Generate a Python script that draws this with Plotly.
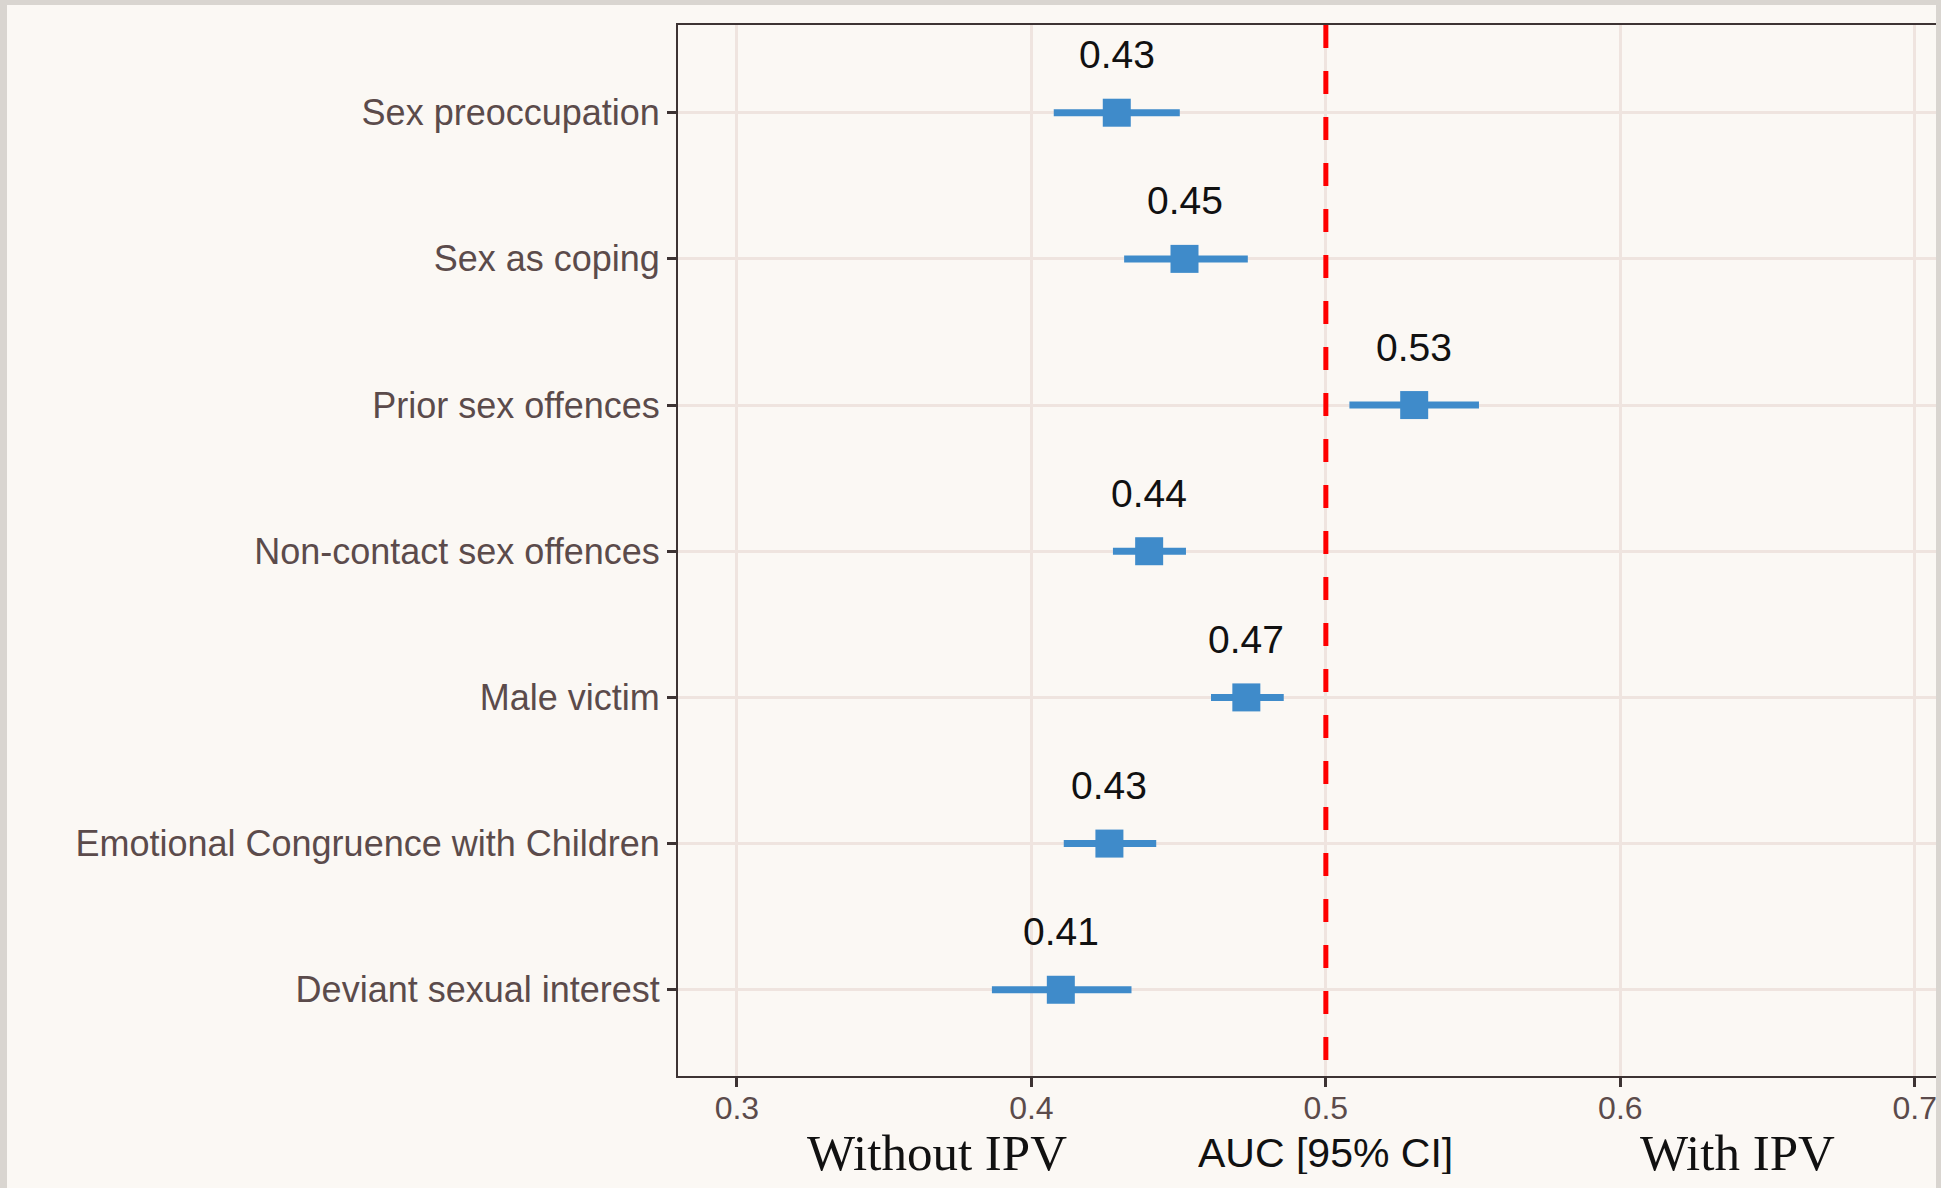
import plotly.graph_objects as go

# ---- data ----
categories = ["Deviant sexual interest", "Emotional Congruence with Children", "Male victim",
              "Non-contact sex offences", "Prior sex offences", "Sex as coping", "Sex preoccupation"]
auc = [0.410, 0.4265, 0.473, 0.440, 0.530, 0.452, 0.429]
ci_low = [0.3866, 0.411, 0.461, 0.4277, 0.508, 0.4315, 0.4076]
ci_high = [0.434, 0.4424, 0.4857, 0.4525, 0.552, 0.4735, 0.4504]
auc_labels = ["0.41", "0.43", "0.47", "0.44", "0.53", "0.45", "0.43"]
x_ticks = [0.3, 0.4, 0.5, 0.6, 0.7]
x_tick_labels = ["0.3", "0.4", "0.5", "0.6", "0.7"]
reference_auc = 0.5

ypos = list(range(1, len(categories) + 1))

BG = "#fbf8f4"
FRAME = "#d9d5d0"
GRID = "#efe4df"
AXIS = "#3d3333"
TICKTXT = "#5b4b4b"
BLUE = "#3f8bca"

fig = go.Figure()

fig.add_trace(go.Scatter(
    x=auc, y=ypos, mode="markers",
    marker=dict(symbol="square", size=28, color=BLUE, line=dict(width=0)),
    error_x=dict(type="data", symmetric=False,
                 array=[h - a for h, a in zip(ci_high, auc)],
                 arrayminus=[a - l for a, l in zip(auc, ci_low)],
                 thickness=7, width=0, color=BLUE),
    showlegend=False, hoverinfo="skip"))

for x, y, t in zip(auc, ypos, auc_labels):
    fig.add_annotation(x=x, y=y, text=t, showarrow=False, yshift=58, xanchor="center",
                       font=dict(family="Liberation Sans, Arial", size=39, color="#111111"))

# reference line
fig.add_shape(type="line", xref="x", yref="paper", x0=reference_auc, x1=reference_auc,
              y0=1, y1=0, line=dict(color="#ff0000", width=5, dash="23px,23px"), layer="above")

# axis title-like annotations
fig.add_annotation(xref="x", yref="paper", x=reference_auc, y=-0.073, text="AUC [95% CI]",
                   showarrow=False, yanchor="middle", xanchor="center", height=42,
                   font=dict(family="Liberation Sans, Arial", size=41, color="#111111"))
fig.add_annotation(xref="paper", yref="paper", x=0.206, y=-0.073, text="Without IPV",
                   showarrow=False, yanchor="middle", xanchor="center", height=42,
                   font=dict(family="Liberation Serif, Times New Roman", size=51, color="#111111"))
fig.add_annotation(xref="paper", yref="paper", x=0.842, y=-0.073, text="With IPV",
                   showarrow=False, yanchor="middle", xanchor="center", height=42,
                   font=dict(family="Liberation Serif, Times New Roman", size=51, color="#111111"))

# frame strips (left, top, right)
W, H = 1941, 1188
L, R, T, B = 678, 5, 25, 112
pw, ph = W - L - R, H - T - B
def px_x(p):
    return (p - L) / pw
def px_y(p):
    return (H - B - p) / ph
for x0, x1, y0, y1 in [(0, 7, 0, H), (0, W, 0, 5), (W - 5, W, 0, H)]:
    fig.add_shape(type="rect", xref="paper", yref="paper",
                  x0=px_x(x0), x1=px_x(x1), y0=px_y(y1), y1=px_y(y0),
                  fillcolor=FRAME, line=dict(width=0), layer="above")

fig.update_xaxes(range=[0.28, 0.7072], tickvals=x_ticks, ticktext=x_tick_labels,
                 showgrid=True, gridcolor=GRID, gridwidth=3, zeroline=False,
                 showline=True, linecolor=AXIS, linewidth=2, mirror=True,
                 ticks="outside", ticklen=9, tickwidth=3, tickcolor=AXIS,
                 ticklabelstandoff=-6,
                 tickfont=dict(family="Liberation Sans, Arial", size=32, color=TICKTXT))
fig.update_yaxes(range=[0.41, 7.6], tickvals=ypos, ticktext=categories,
                 showgrid=True, gridcolor=GRID, gridwidth=3, zeroline=False,
                 showline=True, linecolor=AXIS, linewidth=2,
                 ticks="outside", ticklen=9, tickwidth=3, tickcolor=AXIS,
                 tickfont=dict(family="Liberation Sans, Arial", size=36, color=TICKTXT))

fig.update_layout(width=W, height=H, margin=dict(l=L, r=R, t=T, b=B),
                  paper_bgcolor=BG, plot_bgcolor=BG, showlegend=False)

fig.write_html("out.html", config={"displayModeBar": False},
               post_script="document.body.style.margin='0';document.body.style.overflow='hidden';")
